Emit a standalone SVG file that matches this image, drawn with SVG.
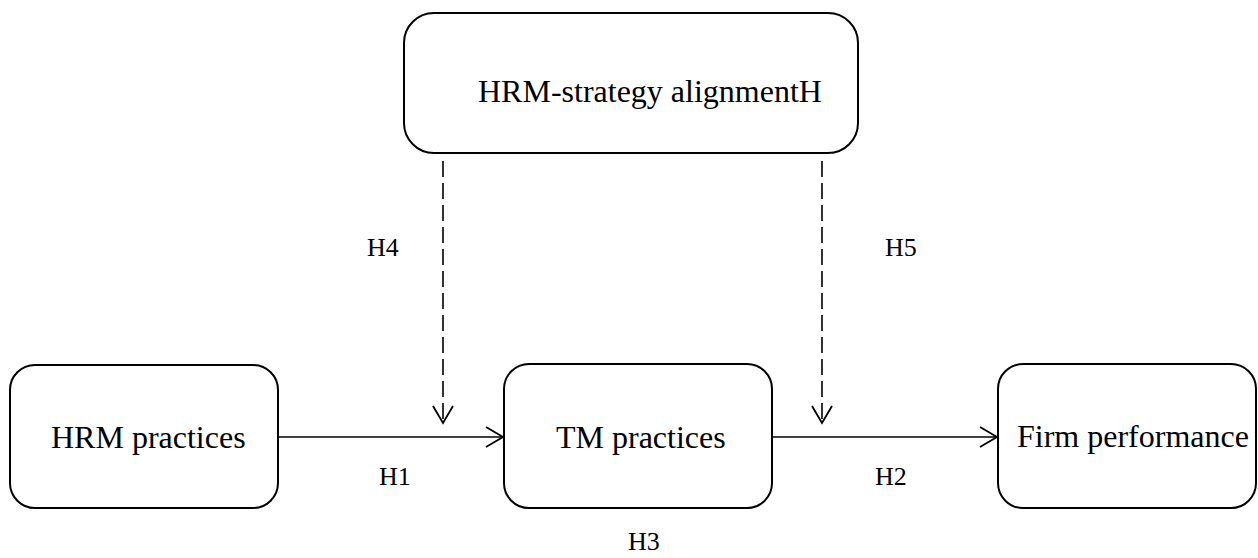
<svg xmlns="http://www.w3.org/2000/svg" width="1258" height="558" viewBox="0 0 1258 558">
<style>
.box{fill:#fff;stroke:#000;stroke-width:2}
.lbl{font-family:"Liberation Serif","Times New Roman",serif;font-size:32px;fill:#000}
.h{font-family:"Liberation Serif","Times New Roman",serif;font-size:26px;fill:#000}
.ln{stroke:#000;stroke-width:1.6;fill:none}
.dash{stroke-dasharray:16 6}
</style>
<defs>
<marker id="arr" markerUnits="userSpaceOnUse" markerWidth="20" markerHeight="24" viewBox="-18 -11 20 22" refX="0" refY="0" orient="auto">
<path d="M-17,-10 L0,0 L-17,10" fill="none" stroke="#000" stroke-width="1.8"/>
</marker>
</defs>
<rect width="1258" height="558" fill="#fff"/>
<g id="node-alignment">
<rect class="box" x="404" y="13" width="454" height="140" rx="30"/>
<text class="lbl" x="478" y="102">HRM-strategy alignmentH</text>
</g>
<g id="node-hrm">
<rect class="box" x="10" y="365" width="268" height="143" rx="25"/>
<text class="lbl" x="51" y="448">HRM practices</text>
</g>
<g id="node-tm">
<rect class="box" x="504" y="364" width="268" height="144" rx="25"/>
<text class="lbl" x="556" y="448">TM practices</text>
</g>
<g id="node-firm">
<rect class="box" x="998" y="364" width="258" height="144" rx="25"/>
<text class="lbl" x="1017" y="447">Firm performance</text>
</g>
<g id="connectors">
<line class="ln" x1="278" y1="437" x2="503" y2="437" marker-end="url(#arr)"/>
<line class="ln" x1="772" y1="437" x2="997" y2="437" marker-end="url(#arr)"/>
<line class="ln dash" x1="443" y1="161" x2="443" y2="423" marker-end="url(#arr)"/>
<line class="ln dash" x1="822" y1="161" x2="822" y2="423" marker-end="url(#arr)"/>
</g>
<g id="labels">
<text class="h" x="379" y="485">H1</text>
<text class="h" x="875" y="485">H2</text>
<text class="h" x="628" y="550">H3</text>
<text class="h" x="367" y="256">H4</text>
<text class="h" x="885" y="256">H5</text>
</g>
</svg>
